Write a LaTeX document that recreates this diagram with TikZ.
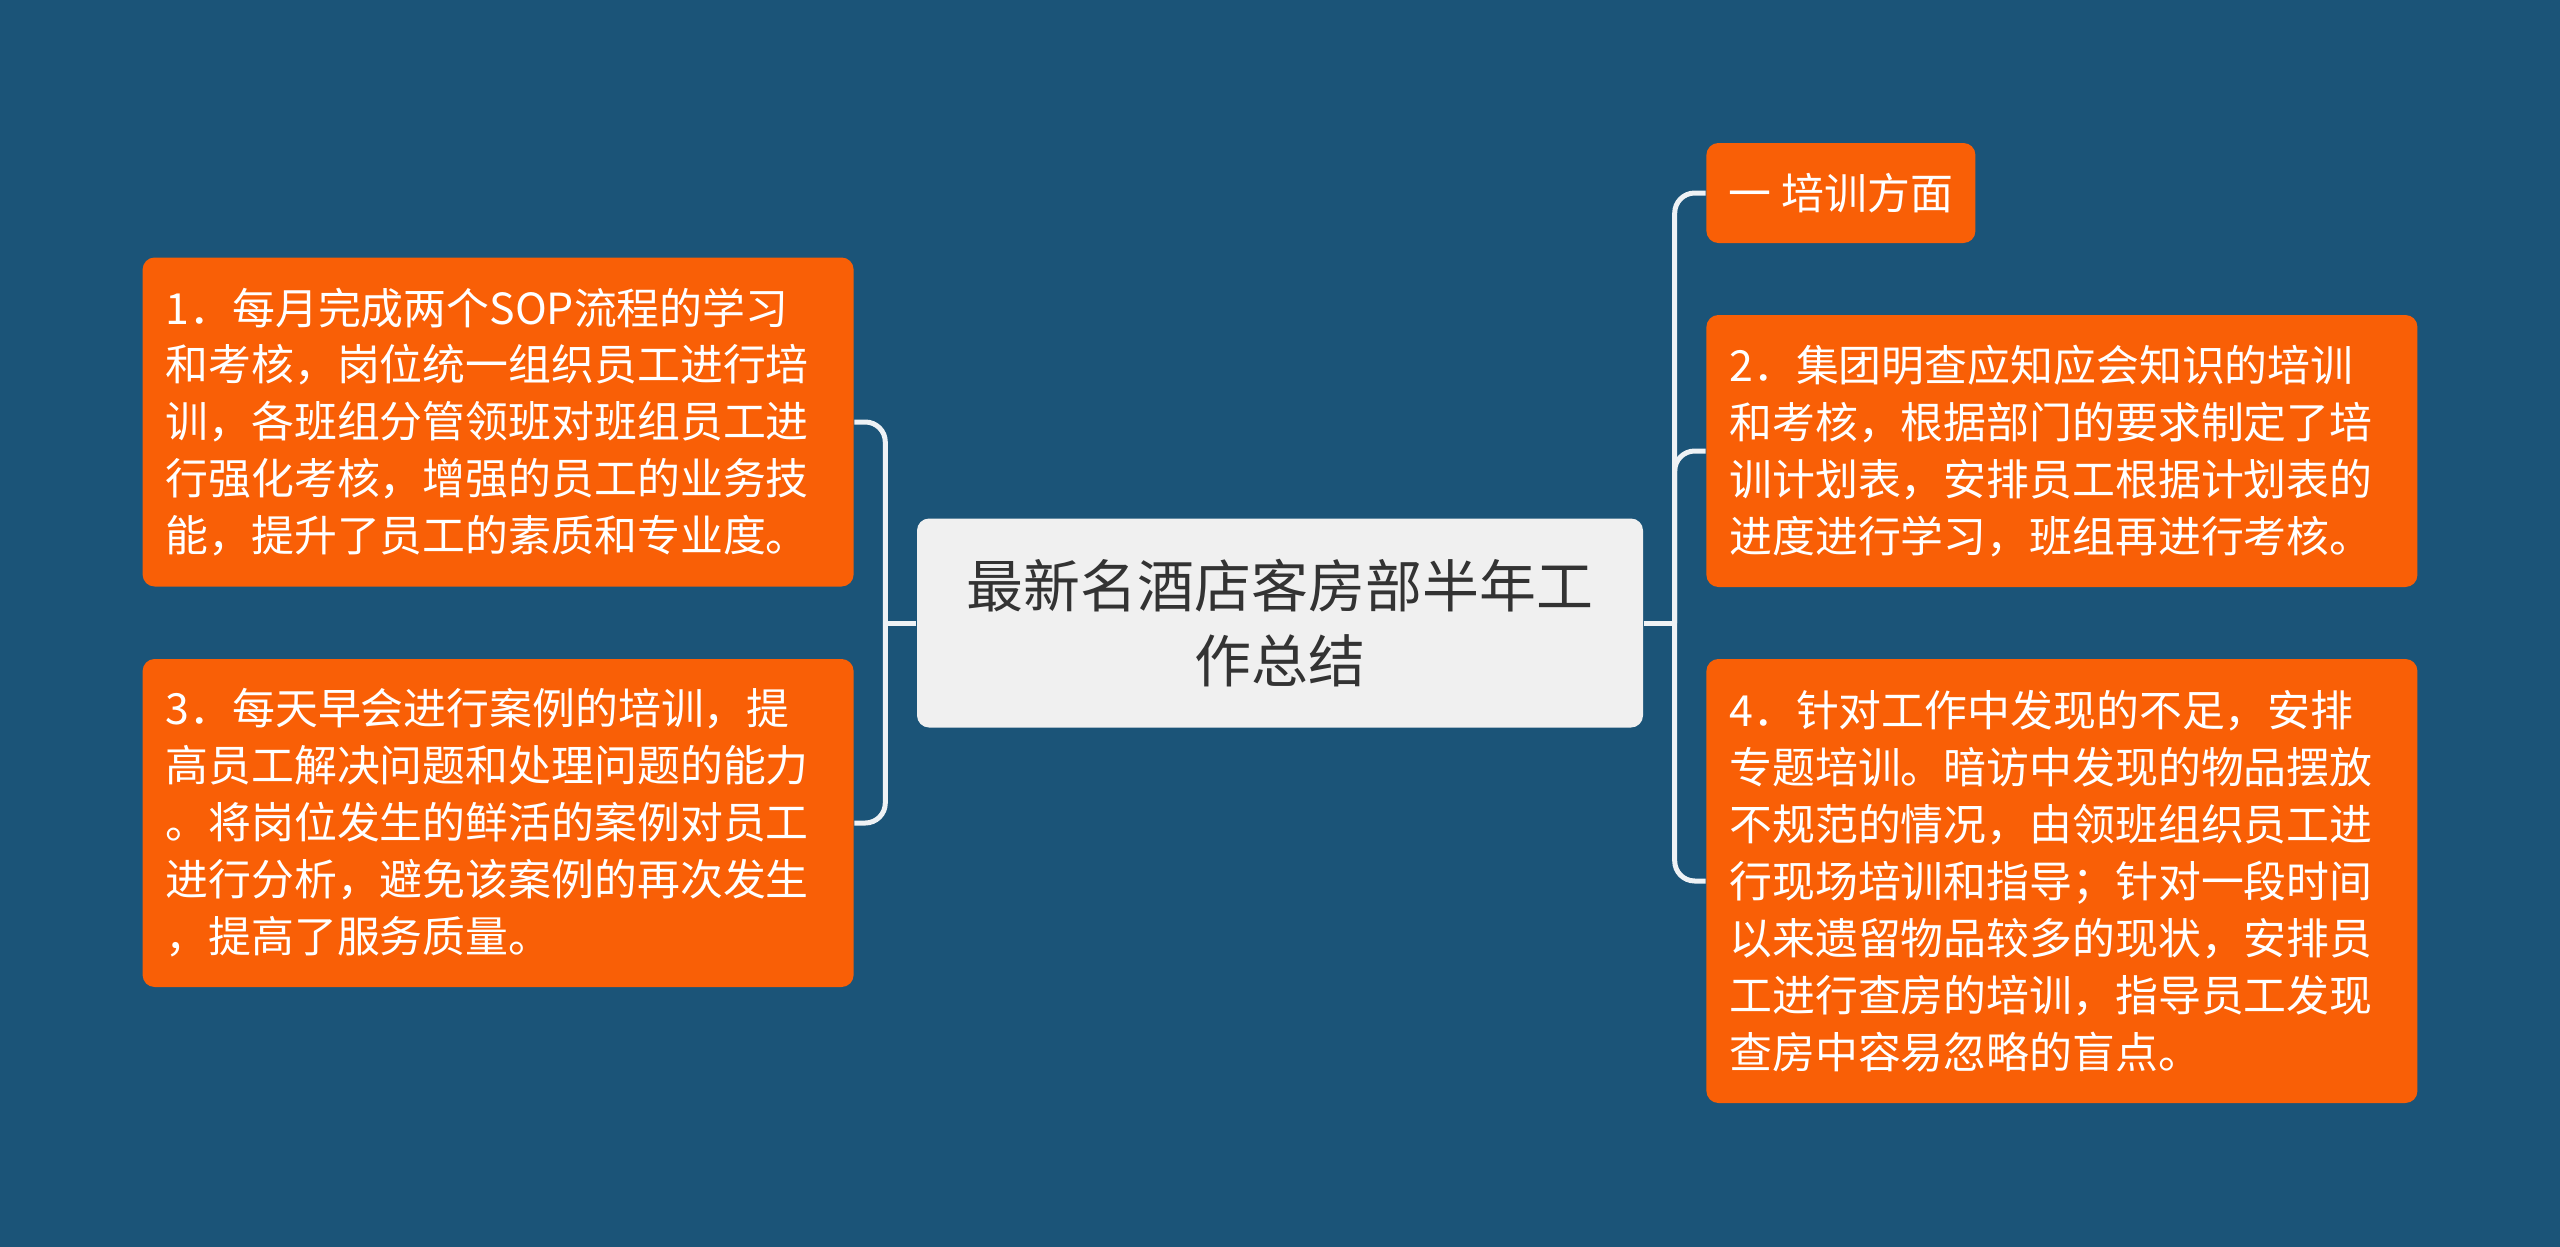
\documentclass[tikz,border=0pt]{standalone}
\usepackage{fontspec}
\newfontfamily\cjk{Noto Sans CJK SC}
\usetikzlibrary{positioning,calc}
\definecolor{bgblue}{HTML}{1B5478}
\definecolor{leaforange}{HTML}{F95F06}
\definecolor{rootgray}{HTML}{F0F0F0}
\definecolor{linkwhite}{HTML}{EEF2F5}
\definecolor{roottext}{HTML}{333333}

\begin{document}
\begin{tikzpicture}[
            node distance=6.2mm,
            root/.style={fill=rootgray, rounded corners=0.12cm, minimum width=7.26cm,
            minimum height=2.09cm, align=center, text=roottext,
            font=\cjk\fontsize{16.2}{21.3}\selectfont},
            leaf/.style={fill=leaforange, rounded corners=0.12cm, text=white, align=left,
            inner xsep=0.23cm, inner ysep=0pt, text width=6.65cm,
            font=\cjk\fontsize{12.2}{16.2}\selectfont},
            tag/.style={fill=leaforange, rounded corners=0.12cm, text=white,
            minimum width=2.69cm, minimum height=1.0cm, inner xsep=0.2cm,
            font=\cjk\fontsize{12.2}{16.2}\selectfont},
            link/.style={draw=linkwhite, line width=0.05cm, rounded corners=0.2cm}
        ]
% --- canvas ---
            \fill[bgblue] (0,0) rectangle (25.6,-12.47);
            \useasboundingbox (0,0) rectangle (25.6,-12.47);

% --- central topic ---
            \node[root] (root) at (12.80,-6.23) {最新名酒店客房部半年工\\作总结};

% --- left branch ---
            \node[leaf, minimum height=3.29cm, left=of root, yshift=2.01cm] (t1)
                {1．每月完成两个SOP流程的学习\\和考核，岗位统一组织员工进行培\\训，各班组分管领班对班组员工进\\行强化考核，增强的员工的业务技\\能，提升了员工的素质和专业度。};
            \node[leaf, minimum height=3.28cm, left=of root, yshift=-2.00cm] (t3)
                {3．每天早会进行案例的培训，提\\高员工解决问题和处理问题的能力\\。将岗位发生的鲜活的案例对员工\\进行分析，避免该案例的再次发生\\，提高了服务质量。};

% --- right branch ---
            \node[tag, right=of root, yshift=4.30cm] (t0) {一 培训方面};
            \node[leaf, minimum height=2.72cm, right=of root, yshift=1.72cm] (t2)
                {2．集团明查应知应会知识的培训\\和考核，根据部门的要求制定了培\\训计划表，安排员工根据计划表的\\进度进行学习，班组再进行考核。};
            \node[leaf, minimum height=4.44cm, right=of root, yshift=-2.58cm] (t4)
                {4．针对工作中发现的不足，安排\\专题培训。暗访中发现的物品摆放\\不规范的情况，由领班组织员工进\\行现场培训和指导；针对一段时间\\以来遗留物品较多的现状，安排员\\工进行查房的培训，指导员工发现\\查房中容易忽略的盲点。};

% --- connectors ---
            \coordinate[left=3.1mm of root]  (lj);
            \coordinate[right=3.1mm of root] (rj);
            \draw[link] (root.west) -- (lj);
            \draw[link] (lj) |- (t1.east);
            \draw[link] (lj) |- (t3.east);
            \draw[link] (root.east) -- (rj);
            \draw[link] (rj) |- (t0.west);
            \draw[link] (rj) |- (t2.west);
            \draw[link] (rj) |- (t4.west);
        \end{tikzpicture}
\end{document}
